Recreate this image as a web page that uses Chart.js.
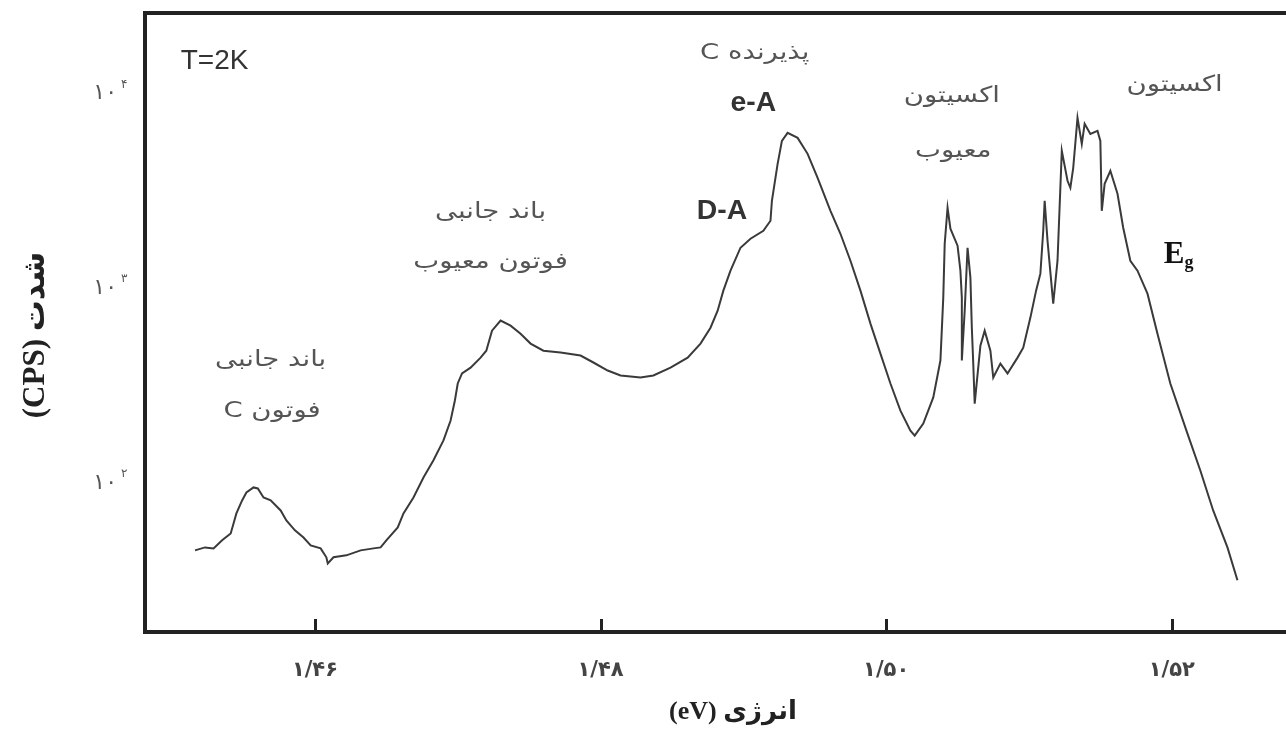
<!DOCTYPE html>
<html lang="fa">
<head>
<meta charset="utf-8">
<title>طیف فوتولومینسانس</title>
<script src="https://cdn.jsdelivr.net/npm/chart.js@4.4.1/dist/chart.umd.min.js"></script>
<style>
  html, body { margin: 0; padding: 0; background: #ffffff; }
  #wrap { width: 1286px; height: 734px; }
</style>
</head>
<body>
<div id="wrap"><canvas id="spectrum" width="1286" height="734"></canvas></div>
<script>
// Photoluminescence spectrum at T = 2 K: photon energy (eV) vs intensity (counts per second)
const energy = [
  1.4516, 1.4523, 1.4529, 1.4535, 1.4541, 1.4543, 1.4545, 1.4549, 1.4552, 1.4557,
  1.4560, 1.4564, 1.4569, 1.4576, 1.4580, 1.4586, 1.4592, 1.4597, 1.4604, 1.4608,
  1.4609, 1.4613, 1.4622, 1.4632, 1.4641, 1.4646, 1.4650, 1.4658, 1.4662, 1.4669,
  1.4676, 1.4683, 1.4690, 1.4695, 1.4698, 1.4700, 1.4703, 1.4709, 1.4716, 1.4720,
  1.4724, 1.4730, 1.4737, 1.4744, 1.4751, 1.4760, 1.4772, 1.4786, 1.4795, 1.4805,
  1.4814, 1.4828, 1.4837, 1.4849, 1.4861, 1.4870, 1.4877, 1.4882, 1.4886, 1.4891,
  1.4898, 1.4905, 1.4914, 1.4919, 1.4920, 1.4924, 1.4927, 1.4931, 1.4938, 1.4945,
  1.4952, 1.4961, 1.4968, 1.4975, 1.4982, 1.4989, 1.4996, 1.5003, 1.5010, 1.5017,
  1.5020, 1.5026, 1.5033, 1.5038, 1.5040, 1.5041, 1.5043, 1.5045, 1.5050, 1.5052,
  1.5053, 1.5053, 1.5055, 1.5057, 1.5059, 1.5060, 1.5061, 1.5062, 1.5066, 1.5069,
  1.5073, 1.5075, 1.5080, 1.5085, 1.5092, 1.5096, 1.5101, 1.5105, 1.5108, 1.5110,
  1.5111, 1.5113, 1.5117, 1.5120, 1.5123, 1.5127, 1.5129, 1.5131, 1.5134, 1.5137,
  1.5139, 1.5143, 1.5148, 1.5150, 1.5151, 1.5153, 1.5157, 1.5162, 1.5166, 1.5171,
  1.5176, 1.5183, 1.5190, 1.5199, 1.5211, 1.5220, 1.5229, 1.5239, 1.5246
];

const intensity = [
  42.0, 43.5, 43.0, 47.3, 51.3, 57.7, 65.0, 75.8, 83.3, 88.4,
  87.3, 78.5, 75.8, 67.3, 59.8, 53.2, 48.9, 44.5, 43.0, 38.7,
  36.0, 38.7, 39.6, 42.0, 43.0, 43.5, 47.3, 55.1, 65.0, 78.5,
  99.4, 122, 154, 195, 247, 302, 340, 364, 410, 445,
  564, 635, 598, 544, 484, 445, 435, 420, 387, 352,
  332, 324, 332, 364, 410, 484, 584, 714, 905, 1146,
  1503, 1671, 1837, 2067, 2618, 4053, 5315, 5843, 5508, 4560,
  3435, 2326, 1773, 1289, 905, 613, 430, 302, 219, 173,
  163, 188, 256, 396, 833, 1576, 2410, 1881, 1539, 1146,
  833, 396, 714, 1503, 1055, 584, 382, 238, 472, 564,
  445, 324, 382, 340, 410, 461, 658, 905, 1106, 1837,
  2618, 1632, 776, 1289, 4724, 3315, 3052, 3865, 6977, 5131,
  6498, 5773, 5982, 5315, 2326, 3200, 3731, 2843, 1903, 1289,
  1146, 873, 544, 302, 167, 108, 67.3, 43.5, 29.5
];

// Axis ticks
const xTickValues = [1.46, 1.48, 1.50, 1.52];
const xTickLabels = ['۱/۴۶', '۱/۴۸', '۱/۵۰', '۱/۵۲'];
const yTickValues = [100, 1000, 10000];
const yTickBase = '۱۰';
const yTickExponents = ['۲', '۳', '۴'];

// Axis titles
const xTitle = 'انرژی (eV)';
const yTitle = 'شدت (CPS)';

// Peak labels, anchored in data coordinates (eV, CPS)
const FA = '22px "DejaVu Sans", sans-serif';
const peakLabels = [
  { text: 'T=2K',         x: 1.4506, y: 13670, align: 'left',   font: '28px "Liberation Sans", sans-serif', color: '#333', rtl: false, sx: 1 },
  { text: 'باند جانبی',   x: 1.4569, y: 396,   align: 'center', font: FA, color: '#555', rtl: true, sx: 1.25 },
  { text: 'فوتون C',      x: 1.4570, y: 217,   align: 'center', font: FA, color: '#555', rtl: true, sx: 1.25 },
  { text: 'باند جانبی',   x: 1.4723, y: 2298,  align: 'center', font: FA, color: '#555', rtl: true, sx: 1.25 },
  { text: 'فوتون معیوب',  x: 1.4723, y: 1259,  align: 'center', font: FA, color: '#555', rtl: true, sx: 1.25 },
  { text: 'پذیرنده C',    x: 1.4908, y: 15030, align: 'center', font: FA, color: '#555', rtl: true, sx: 1.25 },
  { text: 'e-A',          x: 1.4907, y: 8230,  align: 'center', font: 'bold 27px "Liberation Sans", sans-serif', color: '#333', rtl: false, sx: 1.05 },
  { text: 'D-A',          x: 1.4885, y: 2298,  align: 'center', font: 'bold 27px "Liberation Sans", sans-serif', color: '#333', rtl: false, sx: 1.05 },
  { text: 'اکسیتون',      x: 1.5046, y: 9044,  align: 'center', font: FA, color: '#555', rtl: true, sx: 1.25 },
  { text: 'معیوب',        x: 1.5047, y: 4724,  align: 'center', font: FA, color: '#555', rtl: true, sx: 1.25 },
  { text: 'اکسیتون',      x: 1.5202, y: 10300, align: 'center', font: FA, color: '#555', rtl: true, sx: 1.25 }
];
const gapLabel = { main: 'E', sub: 'g', x: 1.5207, y: 1450 };

// Frame, inward ticks, y labels, axis titles and peak labels
const decorations = {
  id: 'decorations',
  afterDraw(chart) {
    const { ctx, chartArea: a, scales: { x, y } } = chart;
    ctx.save();

    // top edge of the frame
    ctx.strokeStyle = '#222';
    ctx.lineWidth = 4;
    ctx.beginPath();
    ctx.moveTo(a.left - 2, a.top);
    ctx.lineTo(a.right, a.top);
    ctx.stroke();

    // tick marks pointing into the plot
    ctx.lineWidth = 3;
    xTickValues.forEach(v => {
      const px = Math.round(x.getPixelForValue(v)) + 0.5;
      ctx.beginPath();
      ctx.moveTo(px, a.bottom);
      ctx.lineTo(px, a.bottom - 13);
      ctx.stroke();
    });

    // logarithmic decade labels: 10 with a raised exponent
    ctx.fillStyle = '#555';
    ctx.textBaseline = 'middle';
    yTickValues.forEach((v, i) => {
      const py = y.getPixelForValue(v);
      ctx.font = '22px "DejaVu Sans", sans-serif';
      ctx.letterSpacing = '5px';
      ctx.textAlign = 'right';
      ctx.fillText(yTickBase, 117, py + 6);
      ctx.letterSpacing = '0px';
      ctx.font = '12px "DejaVu Sans", sans-serif';
      ctx.textAlign = 'left';
      ctx.fillText(yTickExponents[i], 121, py - 3);
    });

    // peak labels
    peakLabels.forEach(l => {
      ctx.save();
      ctx.font = l.font;
      ctx.fillStyle = l.color;
      ctx.direction = l.rtl ? 'rtl' : 'ltr';
      ctx.textAlign = l.align;
      ctx.textBaseline = 'middle';
      ctx.translate(x.getPixelForValue(l.x), y.getPixelForValue(l.y));
      ctx.scale(l.sx, 1);
      ctx.fillText(l.text, 0, 0);
      ctx.restore();
    });

    // band-gap marker
    ctx.direction = 'ltr';
    ctx.fillStyle = '#111';
    ctx.textAlign = 'left';
    ctx.textBaseline = 'alphabetic';
    const gx = x.getPixelForValue(gapLabel.x) - 18;
    const gy = y.getPixelForValue(gapLabel.y) + 12;
    ctx.font = 'bold 31px "Liberation Serif", serif';
    ctx.fillText(gapLabel.main, gx, gy);
    const ew = ctx.measureText(gapLabel.main).width;
    ctx.font = 'bold 18px "Liberation Serif", serif';
    ctx.fillText(gapLabel.sub, gx + ew, gy + 5);

    // axis titles
    ctx.fillStyle = '#222';
    ctx.direction = 'rtl';
    ctx.textAlign = 'center';
    ctx.textBaseline = 'middle';
    ctx.font = 'bold 26px "Liberation Serif", "DejaVu Sans", serif';
    ctx.fillText(xTitle, 733, 712);
    ctx.save();
    ctx.translate(36, 335);
    ctx.rotate(-Math.PI / 2);
    ctx.font = 'bold 31px "Liberation Serif", "DejaVu Sans", serif';
    ctx.fillText(yTitle, 0, 0);
    ctx.restore();

    ctx.restore();
  }
};

new Chart(document.getElementById('spectrum'), {
  type: 'line',
  data: {
    datasets: [{
      data: energy.map((e, i) => ({ x: e, y: intensity[i] })),
      borderColor: '#3a3a3a',
      borderWidth: 2,
      pointRadius: 0,
      tension: 0,
      fill: false
    }]
  },
  options: {
    responsive: false,
    animation: false,
    devicePixelRatio: 1,
    layout: { padding: { top: 13, right: 0, left: 0, bottom: 0 } },
    plugins: { legend: { display: false }, tooltip: { enabled: false } },
    scales: {
      x: {
        type: 'linear',
        min: 1.4481,
        max: 1.5280,
        grid: { display: false },
        border: { display: true, color: '#222', width: 4 },
        afterBuildTicks: s => { s.ticks = xTickValues.map(v => ({ value: v })); },
        afterFit: s => { s.height = 102; },
        ticks: {
          autoSkip: false,
          maxRotation: 0,
          padding: 18,
          color: '#444',
          font: { family: '"DejaVu Sans", sans-serif', size: 21, weight: 'bold' },
          callback: (v, i) => xTickLabels[i]
        }
      },
      y: {
        type: 'logarithmic',
        min: 16,
        max: 24100,
        grid: { display: false },
        border: { display: true, color: '#222', width: 4 },
        afterBuildTicks: s => { s.ticks = yTickValues.map(v => ({ value: v })); },
        afterFit: s => { s.width = 145; },
        ticks: { display: false }
      }
    }
  },
  plugins: [decorations]
});
</script>
</body>
</html>
